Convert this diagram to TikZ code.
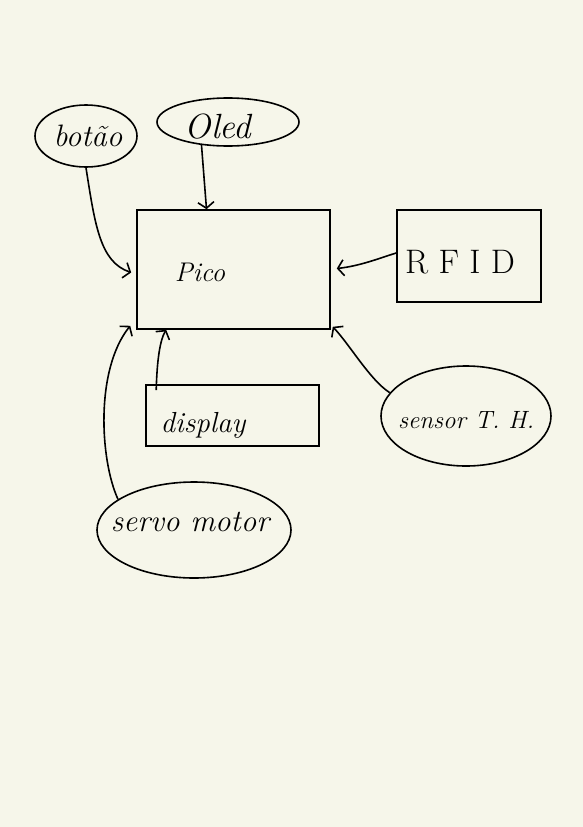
\documentclass[tikz,border=0pt]{standalone}
\usetikzlibrary{shapes.geometric,arrows.meta,calc}
\definecolor{paper}{HTML}{F6F6EA}
\begin{document}
\begin{tikzpicture}[x=1pt,y=-1pt,
  ink/.style={line width=1.6pt,black},
  box/.style={ink,draw,rectangle,inner sep=0pt},
  oval/.style={ink,draw,ellipse,inner sep=0pt},
  hand/.style={font=\itshape\fontsize{#1}{#1}\selectfont},
  arr/.style={ink,-{Straight Barb[length=6pt,width=16pt,line width=1.6pt]}}]
\fill[paper] (0,0) rectangle (583,827);
\useasboundingbox (0,0) rectangle (583,827);
% boxes
\node[box,minimum width=193pt,minimum height=119pt] (pico) at (233.5,269.5) {};
\node[box,minimum width=144pt,minimum height=92pt] (rfid) at (469,256) {};
\node[box,minimum width=173pt,minimum height=61pt] (disp) at (232.5,415.5) {};
% ellipses
\node[oval,minimum width=102pt,minimum height=62pt] (bot) at (86,136) {};
\node[oval,minimum width=142pt,minimum height=48pt] (oled) at (228,122) {};
\node[oval,minimum width=170pt,minimum height=100pt] (sens) at (466,416) {};
\node[oval,minimum width=194pt,minimum height=96pt] (servo) at (194,530) {};
% texts
\node[hand=31] (tbot) at (88,136) {botão};
\node[hand=35] (toled) at (218,127) {Oled};
\node[hand=27] (tpico) at (200,272) {Pico};
\node[font=\fontsize{34}{34}\selectfont] (trfid) at (460,262) {R F I D};
\node[hand=25] (tsens) at (466,420) {sensor T. H.};
\node[hand=29] (tdisp) at (203,425) {display};
\node[hand=31] (tservo) at (190,522) {servo motor};
% connectors
\draw[arr] (bot.south) .. controls (95,225) and (100,262) .. ([xshift=-5pt,yshift=-3pt]pico.west);
\draw[arr] (oled.221) -- ([xshift=-27pt]pico.north);
\draw[arr] ([yshift=3pt]rfid.west) .. controls (380,258) and (360,266) .. ([xshift=6pt,yshift=1pt]pico.east);
\draw[arr] (sens.163) .. controls (370,380) and (350,345) .. ([xshift=2pt,yshift=3pt]pico.south east);
\draw[arr] ([xshift=11pt,yshift=-6pt]disp.north west) .. controls (157,360) and (160,340) .. ([xshift=30pt]pico.south west);
\draw[arr] (servo.158) .. controls (100,460) and (95,370) .. ([xshift=-6pt,yshift=4pt]pico.south west);
\end{tikzpicture}
\end{document}
